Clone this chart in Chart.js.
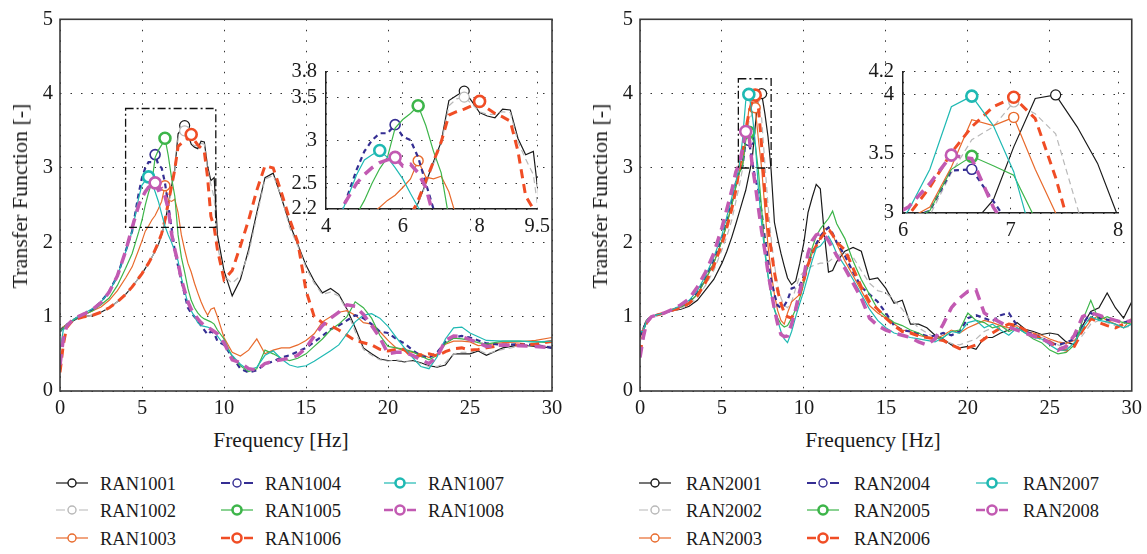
<!DOCTYPE html>
<html>
<head>
<meta charset="utf-8">
<script src="https://cdn.jsdelivr.net/npm/chart.js@4.4.1/dist/chart.umd.min.js"></script>
<style>
  body { margin: 0; background: #fff; width: 1147px; height: 554px; overflow: hidden; position: relative; font-family: 'Liberation Serif', serif; color: #1a1a1a; }
  canvas { position: absolute; }
  .txt { position: absolute; white-space: nowrap; line-height: 1; }
  .legtxt { position: absolute; white-space: nowrap; line-height: 1; font-size: 18.5px; transform: translateY(-50%); }
  svg { position: absolute; overflow: visible; }
</style>
</head>
<body>
<canvas id="mainL" width="575" height="420" style="left:0;top:0"></canvas>
<canvas id="mainR" width="567" height="420" style="left:580px;top:0"></canvas>
<canvas id="insetL" width="290" height="200" style="left:265px;top:50px"></canvas>
<canvas id="insetR" width="290" height="200" style="left:845px;top:50px"></canvas>

<script>
// ---- data ----
const freqL = [0, 0.2, 0.4, 0.7, 1, 1.5, 2, 2.5, 3, 3.5, 4, 4.4, 4.8,
  5.0, 5.2, 5.4, 5.6, 5.8, 6.0, 6.2, 6.4, 6.6, 6.8, 7.0, 7.2, 7.4, 7.6, 7.8, 8.0, 8.2, 8.4, 8.6, 8.8, 9.0, 9.2, 9.4, 9.6,
  10, 10.5, 11, 11.5, 12, 12.5, 13, 13.5, 14, 14.5, 15, 15.5, 16, 16.5, 17, 17.5, 18, 18.5, 19, 19.5, 20, 20.5, 21, 21.5, 22, 22.5, 23, 23.5, 24, 24.5, 25, 25.5, 26,
  27, 28, 29, 30];

const ran1001 = [0.82, 0.86, 0.89, 0.93, 0.97, 1.0, 1.02, 1.06, 1.12, 1.2, 1.3, 1.4, 1.52,
  1.58, 1.65, 1.72, 1.8, 1.88, 1.97, 2.1, 2.27, 2.5, 2.75, 2.98, 3.46, 3.52, 3.57, 3.45, 3.32, 3.28, 3.26, 3.36, 3.35, 3.02, 2.83, 2.87, 2.1,
  1.62, 1.28, 1.5, 1.9, 2.4, 2.87, 2.93, 2.6, 2.25, 1.97, 1.69, 1.48, 1.32, 1.38, 1.3, 1.1, 0.85, 0.58, 0.5, 0.43, 0.41, 0.41, 0.39, 0.41, 0.38, 0.34, 0.32, 0.35, 0.5, 0.5, 0.5, 0.54, 0.48,
  0.58, 0.62, 0.6, 0.58];
const ran1002 = [0.82, 0.86, 0.89, 0.93, 0.97, 1.0, 1.02, 1.06, 1.12, 1.2, 1.3, 1.4, 1.52,
  1.58, 1.65, 1.72, 1.8, 1.88, 1.97, 2.1, 2.27, 2.48, 2.72, 2.95, 3.4, 3.48, 3.5, 3.42, 3.33, 3.3, 3.3, 3.33, 3.32, 2.98, 2.78, 2.6, 1.95,
  1.55, 1.45, 1.55, 1.85, 2.35, 2.85, 2.9, 2.62, 2.2, 1.95, 1.66, 1.45, 1.3, 1.33, 1.28, 1.08, 0.8, 0.56, 0.48, 0.42, 0.4, 0.42, 0.4, 0.4, 0.37, 0.33, 0.33, 0.38, 0.5, 0.52, 0.52, 0.55, 0.5,
  0.56, 0.6, 0.62, 0.6];
const ran1003 = [0.82, 0.86, 0.89, 0.94, 0.98, 1.03, 1.08, 1.13, 1.22, 1.35, 1.52, 1.67, 1.9,
  2.02, 2.15, 2.22, 2.3, 2.36, 2.45, 2.55, 2.76, 2.57, 2.55, 2.58, 2.4, 2.1, 1.9, 1.72, 1.6, 1.45, 1.32, 1.2, 1.1, 1.02, 1.1, 1.12, 1.0,
  0.72, 0.52, 0.47, 0.55, 0.7, 0.5, 0.55, 0.58, 0.58, 0.62, 0.68, 0.77, 0.93, 1.0, 1.06, 1.08, 1.02, 0.92, 0.9, 0.8, 0.68, 0.58, 0.54, 0.52, 0.5, 0.45, 0.5, 0.63, 0.67, 0.67, 0.66, 0.61, 0.62,
  0.65, 0.66, 0.68, 0.72];
const ran1004 = [0.8, 0.85, 0.89, 0.94, 0.98, 1.03, 1.1, 1.2, 1.34, 1.55, 1.88, 2.15, 2.66,
  2.87, 3.0, 3.08, 3.08, 3.18, 3.04, 3.0, 2.8, 2.5, 2.2, 1.88, 1.68, 1.48, 1.3, 1.12, 1.05, 1.0, 0.95, 0.88, 0.82, 0.76, 0.8, 0.78, 0.67,
  0.62, 0.46, 0.3, 0.25, 0.28, 0.36, 0.4, 0.45, 0.48, 0.53, 0.58, 0.66, 0.74, 0.83, 0.88, 0.95, 1.02, 0.98, 0.9, 0.8, 0.78, 0.7, 0.64, 0.55, 0.47, 0.45, 0.52, 0.66, 0.72, 0.74, 0.72, 0.68, 0.64,
  0.62, 0.63, 0.62, 0.58];
const ran1005 = [0.8, 0.85, 0.89, 0.94, 0.98, 1.03, 1.08, 1.16, 1.25, 1.42, 1.65, 1.85, 2.14,
  2.3, 2.5, 2.67, 2.8, 3.14, 3.24, 3.31, 3.4, 3.17, 2.87, 2.62, 2.1, 1.8, 1.6, 1.38, 1.22, 1.12, 1.05, 1.0, 0.97, 0.95, 0.93, 0.9, 0.82,
  0.7, 0.46, 0.34, 0.26, 0.3, 0.55, 0.5, 0.44, 0.41, 0.44, 0.5, 0.6, 0.7, 0.82, 0.9, 1.0, 1.2, 1.12, 0.98, 0.75, 0.6, 0.58, 0.56, 0.53, 0.47, 0.42, 0.48, 0.64, 0.71, 0.7, 0.68, 0.65, 0.63,
  0.67, 0.67, 0.66, 0.65];
const ran1006 = [0.25, 0.62, 0.85, 0.93, 0.97, 1.0, 1.02, 1.06, 1.12, 1.2, 1.3, 1.4, 1.52,
  1.58, 1.65, 1.72, 1.8, 1.9, 2.0, 2.12, 2.3, 2.53, 2.75, 2.98, 3.29, 3.33, 3.36, 3.4, 3.45, 3.37, 3.31, 3.27, 3.22, 2.87, 2.35, 2.2, 1.9,
  1.5, 1.62, 1.95, 2.3, 2.7, 3.03, 3.0, 2.67, 2.31, 2.0, 1.35, 1.0, 0.92, 0.88, 0.82, 0.75, 0.68, 0.65, 0.62, 0.56, 0.54, 0.56, 0.56, 0.45, 0.48, 0.5, 0.47, 0.53, 0.57, 0.58, 0.55, 0.56, 0.58,
  0.62, 0.62, 0.63, 0.67];
const ran1007 = [0.55, 0.82, 0.88, 0.94, 0.99, 1.05, 1.11, 1.2, 1.33, 1.55, 1.87, 2.15, 2.6,
  2.77, 2.83, 2.88, 2.8, 2.68, 2.55, 2.38, 2.22, 2.1, 2.0, 1.88, 1.75, 1.52, 1.35, 1.18, 1.08, 1.0, 0.92, 0.88, 0.87, 0.86, 0.84, 0.8, 0.74,
  0.62, 0.48, 0.36, 0.28, 0.32, 0.48, 0.54, 0.43, 0.35, 0.32, 0.34, 0.4, 0.47, 0.54, 0.62, 0.77, 0.93, 1.02, 1.04, 0.98, 0.87, 0.72, 0.58, 0.45, 0.33, 0.3, 0.46, 0.7, 0.85, 0.86, 0.78, 0.73, 0.68,
  0.67, 0.67, 0.66, 0.67];
const ran1008 = [0.35, 0.7, 0.87, 0.94, 0.99, 1.04, 1.1, 1.19, 1.33, 1.55, 1.88, 2.2, 2.5,
  2.6, 2.68, 2.74, 2.77, 2.8, 2.7, 2.72, 2.62, 2.45, 2.12, 1.9, 1.72, 1.5, 1.35, 1.2, 1.1, 1.03, 0.97, 0.92, 0.88, 0.86, 0.83, 0.8, 0.77,
  0.65, 0.42, 0.38, 0.3, 0.28, 0.37, 0.4, 0.42, 0.44, 0.48, 0.58, 0.74, 0.88, 0.98, 1.06, 1.16, 1.14, 1.03, 0.88, 0.72, 0.5, 0.52, 0.52, 0.48, 0.42, 0.37, 0.46, 0.68, 0.74, 0.73, 0.69, 0.65, 0.6,
  0.62, 0.61, 0.6, 0.58];

const freqR = [0, 0.2, 0.4, 0.7, 1, 1.5, 2, 2.5, 3, 3.5, 4, 4.5, 5,
  5.3, 5.6, 5.85, 6.05, 6.25, 6.45, 6.64, 6.84, 7.03, 7.23, 7.42, 7.62, 7.81, 8.0, 8.2, 8.4, 8.6, 8.8, 9.0,
  9.25, 9.5, 9.75, 10, 10.25, 10.5, 10.75, 11, 11.25, 11.5, 11.75, 12,
  12.5, 13, 13.5, 14, 14.5, 15, 15.5, 16, 16.5, 17, 17.5, 18, 18.5, 19, 19.5, 20, 20.5, 21, 21.5, 22, 22.5, 23, 23.5, 24, 24.5, 25, 25.5, 26, 26.5, 27, 27.5, 28, 28.5, 29, 29.5, 30];

const ran2001 = [0.72, 0.85, 0.95, 1.0, 1.02, 1.05, 1.08, 1.1, 1.14, 1.22, 1.36, 1.5, 1.72,
  1.88, 2.07, 2.25, 2.4, 2.55, 2.7, 2.9, 3.11, 3.56, 3.97, 4.0, 3.73, 3.42, 2.97, 2.27, 2.05, 1.85, 1.68, 1.52,
  1.43, 1.48, 1.72, 2.0, 2.4, 2.6, 2.78, 2.72, 2.1, 1.6, 1.62, 1.74,
  1.88, 1.93, 1.88, 1.5, 1.52, 1.38, 1.18, 1.22, 0.9, 0.9, 0.85, 0.75, 0.7, 0.62, 0.58, 0.6, 0.56, 0.72, 0.72, 0.78, 0.82, 0.92, 0.83, 0.8, 0.76, 0.78, 0.76, 0.66, 0.62, 0.88, 1.07, 1.12, 1.32, 1.12, 0.98, 1.2];
const ran2002 = [0.65, 0.85, 0.95, 1.0, 1.02, 1.05, 1.08, 1.11, 1.16, 1.26, 1.42, 1.62, 1.9,
  2.08, 2.3, 2.55, 2.75, 2.98, 3.34, 3.62, 3.73, 3.94, 3.84, 3.67, 3.05, 2.5, 2.05, 1.7, 1.42, 1.25, 1.15, 1.12,
  1.2, 1.38, 1.55, 1.6, 1.65, 1.68, 1.7, 1.72, 1.72, 1.74, 1.78, 1.82,
  1.85, 1.8, 1.62, 1.45, 1.35, 1.32, 1.22, 1.1, 0.95, 0.85, 0.78, 0.72, 0.68, 0.64, 0.62, 0.66, 0.7, 0.8, 0.85, 0.88, 0.82, 0.85, 0.78, 0.75, 0.72, 0.68, 0.62, 0.58, 0.6, 0.75, 0.9, 0.95, 0.92, 0.88, 0.85, 0.88];
const ran2003 = [0.78, 0.82, 0.95, 1.0, 1.02, 1.05, 1.09, 1.13, 1.19, 1.3, 1.5, 1.72, 2.02,
  2.25, 2.5, 2.75, 2.95, 3.05, 3.39, 3.79, 3.74, 3.81, 3.37, 3.0, 2.45, 1.95, 1.6, 1.3, 1.08, 0.95, 0.9, 1.05,
  1.2, 1.25, 1.3, 1.5, 1.7, 1.85, 1.95, 2.05, 2.18, 2.2, 2.1, 1.98,
  1.75, 1.55, 1.35, 1.15, 1.05, 0.98, 0.9, 0.82, 0.8, 0.75, 0.72, 0.7, 0.75, 0.82, 0.78, 0.85, 0.9, 0.95, 0.92, 0.88, 0.85, 0.88, 0.8, 0.78, 0.75, 0.7, 0.66, 0.64, 0.68, 0.8, 0.95, 1.02, 0.95, 0.9, 0.85, 0.98];
const ran2004 = [0.75, 0.82, 0.95, 1.0, 1.02, 1.05, 1.09, 1.14, 1.2, 1.32, 1.52, 1.75, 2.05,
  2.28, 2.55, 2.8, 2.95, 3.02, 3.36, 3.37, 3.1, 2.85, 2.7, 2.4, 2.05, 1.75, 1.5, 1.3, 1.15, 1.12, 1.15, 1.22,
  1.38, 1.4, 1.42, 1.55, 1.72, 1.85, 1.98, 2.08, 2.15, 2.2, 2.12, 2.0,
  1.82, 1.6, 1.4, 1.3, 1.2, 1.05, 0.88, 0.82, 0.8, 0.77, 0.74, 0.74, 0.78, 0.75, 0.8, 0.98, 1.02, 0.98, 0.94, 1.02, 1.05, 0.88, 0.8, 0.76, 0.72, 0.65, 0.62, 0.65, 0.7, 0.9, 1.05, 0.98, 0.96, 0.95, 0.92, 0.95];
const ran2005 = [0.8, 0.8, 0.95, 1.0, 1.02, 1.05, 1.09, 1.13, 1.19, 1.3, 1.5, 1.72, 2.02,
  2.25, 2.5, 2.75, 2.93, 3.02, 3.37, 3.48, 3.4, 3.32, 2.95, 2.45, 1.9, 1.55, 1.3, 1.1, 0.98, 0.9, 0.86, 0.88,
  0.98, 1.1, 1.25, 1.45, 1.7, 1.92, 2.08, 2.18, 2.25, 2.32, 2.42, 2.25,
  2.05, 1.75, 1.5, 1.3, 1.1, 1.0, 0.92, 0.88, 0.82, 0.78, 0.72, 0.7, 0.72, 0.8, 0.82, 1.05, 0.95, 0.92, 0.85, 0.88, 0.8, 0.85, 0.78, 0.7, 0.65, 0.55, 0.5, 0.52, 0.62, 0.95, 1.22, 0.95, 1.0, 0.95, 0.92, 0.9];
const ran2006 = [0.5, 0.75, 0.92, 1.0, 1.02, 1.05, 1.09, 1.12, 1.18, 1.28, 1.46, 1.68, 1.98,
  2.2, 2.45, 2.7, 2.98, 3.22, 3.51, 3.73, 3.9, 3.98, 3.8, 3.3, 2.65, 2.2, 1.9, 1.6, 1.35, 1.18, 1.05, 1.0,
  0.98, 1.1, 1.3, 1.5, 1.7, 1.85, 1.95, 2.05, 2.12, 2.18, 2.1, 2.0,
  1.9, 1.65, 1.4, 1.2, 1.1, 0.98, 0.88, 0.8, 0.78, 0.74, 0.72, 0.7, 0.68, 0.62, 0.57, 0.58, 0.62, 0.7, 0.78, 0.85, 0.9, 0.88, 0.82, 0.76, 0.7, 0.66, 0.58, 0.55, 0.6, 0.82, 0.98, 0.92, 0.88, 0.85, 0.9, 0.95];
const ran2007 = [0.8, 0.8, 0.95, 1.0, 1.02, 1.05, 1.1, 1.15, 1.22, 1.35, 1.55, 1.8, 2.1,
  2.35, 2.6, 2.82, 3.02, 3.37, 3.9, 3.99, 3.74, 3.35, 2.7, 2.25, 1.85, 1.55, 1.3, 1.1, 0.95, 0.8, 0.7, 0.65,
  0.8, 1.0, 1.18, 1.35, 1.55, 1.75, 1.92, 1.95, 2.02, 2.08, 1.98, 1.85,
  1.68, 1.5, 1.3, 1.1, 0.95, 0.85, 0.78, 0.75, 0.72, 0.7, 0.68, 0.66, 0.72, 0.8, 0.78, 0.92, 0.95, 0.85, 0.9, 0.82, 0.75, 0.85, 0.78, 0.72, 0.7, 0.62, 0.55, 0.55, 0.65, 0.85, 1.0, 0.95, 0.93, 0.9, 0.85, 0.9];
const ran2008 = [0.45, 0.72, 0.92, 1.0, 1.02, 1.05, 1.1, 1.16, 1.24, 1.4, 1.6, 1.85, 2.2,
  2.45, 2.7, 2.95, 3.05, 3.25, 3.49, 3.46, 3.05, 2.78, 2.45, 2.15, 1.88, 1.6, 1.35, 1.1, 0.9, 0.76, 0.73, 0.74,
  0.9, 1.1, 1.35, 1.55, 1.85, 2.02, 2.1, 2.12, 2.1, 2.02, 1.92, 1.82,
  1.65, 1.45, 1.25, 0.98, 0.88, 0.82, 0.78, 0.75, 0.72, 0.66, 0.62, 0.7, 0.9, 1.12, 1.25, 1.34, 1.36, 1.05, 0.98, 0.92, 0.86, 0.82, 0.78, 0.74, 0.7, 0.65, 0.55, 0.6, 0.75, 1.0, 1.05, 1.02, 0.98, 0.95, 0.92, 0.95];

const namesL = ['RAN1001', 'RAN1002', 'RAN1003', 'RAN1004', 'RAN1005', 'RAN1006', 'RAN1007', 'RAN1008'];
const namesR = ['RAN2001', 'RAN2002', 'RAN2003', 'RAN2004', 'RAN2005', 'RAN2006', 'RAN2007', 'RAN2008'];

// zoom windows (also drawn as dash-dot boxes on the main plots)
const zoomXL = [4, 9.5], zoomYL = [2.2, 3.8];
const zoomXR = [6, 8], zoomYR = [3, 4.2];
const insetXTicksL = [4, 6, 8, 9.5], insetYTicksL = [2.2, 2.5, 3, 3.5, 3.8];
const insetXTicksR = [6, 7, 8], insetYTicksR = [3, 3.5, 4, 4.2];

// ---- styles ----
const FONT = "'Liberation Serif', serif";
const TXT = '#1a1a1a';
const styles = [
  { color: '#1a1a1a', width: 1.2, dash: [], r: 5, mw: 1.2 },
  { color: '#b8b8b8', width: 1.2, dash: [6, 4], r: 5, mw: 1.2 },
  { color: '#e86a2c', width: 1.2, dash: [], r: 5, mw: 1.4 },
  { color: '#352e93', width: 2.2, dash: [5, 4], r: 5, mw: 1.6 },
  { color: '#3db54a', width: 1.2, dash: [], r: 5.5, mw: 2.6 },
  { color: '#f04d25', width: 3, dash: [9, 6], r: 5.5, mw: 2.6 },
  { color: '#1fb9b3', width: 1.2, dash: [], r: 5.5, mw: 2.6 },
  { color: '#c25ab2', width: 3.5, dash: [11, 7], r: 5.5, mw: 2.6 }
];

function makeSets(freq, series) {
  return series.map((vals, i) => {
    const st = styles[i];
    const peak = vals.indexOf(Math.max(...vals));
    return {
      data: freq.map((f, k) => ({ x: f, y: vals[k] })),
      borderColor: st.color,
      borderWidth: st.width,
      borderDash: st.dash,
      pointRadius: c => c.dataIndex === peak ? st.r : 0,
      pointHoverRadius: 0,
      pointBorderWidth: st.mw,
      pointBorderColor: st.color,
      pointBackgroundColor: '#fff',
      tension: 0,
      fill: false,
      order: 8 - i
    };
  });
}

// frame + zoom box on main plots
const framePlugin = {
  id: 'frame',
  beforeDraw(chart, args, opts) {
    if (!opts.fill) return;
    const a = chart.chartArea, ctx = chart.ctx;
    ctx.save();
    ctx.fillStyle = '#fff';
    ctx.fillRect(a.left, a.top, a.right - a.left, a.bottom - a.top);
    ctx.restore();
  },
  afterDatasetsDraw(chart, args, opts) {
    const a = chart.chartArea, ctx = chart.ctx;
    ctx.save();
    if (opts.box) {
      const sx = chart.scales.x, sy = chart.scales.y;
      const x1 = sx.getPixelForValue(opts.box[0][0]), x2 = sx.getPixelForValue(opts.box[0][1]);
      const y1 = sy.getPixelForValue(opts.box[1][1]), y2 = sy.getPixelForValue(opts.box[1][0]);
      ctx.strokeStyle = '#111';
      ctx.lineWidth = 1.3;
      ctx.setLineDash([8, 3, 2, 3]);
      ctx.strokeRect(x1, y1, x2 - x1, y2 - y1);
      ctx.setLineDash([]);
    }
    if (opts.frame) {
      ctx.strokeStyle = '#3a3a3a';
      ctx.lineWidth = 1.6;
      ctx.strokeRect(a.left, a.top, a.right - a.left, a.bottom - a.top);
    }
    ctx.restore();
  }
};

function fixedTicks(list) {
  return s => { s.ticks = list.map(v => ({ value: v })); };
}

function mainChart(id, freq, series, box, padRight) {
  new Chart(document.getElementById(id), {
    type: 'line',
    data: { datasets: makeSets(freq, series) },
    plugins: [framePlugin],
    options: {
      responsive: false, animation: false, devicePixelRatio: 1,
      layout: { padding: { left: 0, top: 14, right: padRight, bottom: 0 } },
      plugins: { legend: { display: false }, tooltip: { enabled: false }, frame: { frame: true, box: box } },
      scales: {
        x: {
          type: 'linear', min: 0, max: 30,
          ticks: { stepSize: 5, color: TXT, font: { family: FONT, size: 20.5 }, padding: 5, maxRotation: 0 },
          grid: { color: '#333', lineWidth: 1, drawTicks: false },
          border: { display: false, dash: [1.5, 9] },
          afterFit: s => { s.height = 29; }
        },
        y: {
          type: 'linear', min: 0, max: 5,
          ticks: { stepSize: 1, color: TXT, font: { family: FONT, size: 20.5 }, padding: 7 },
          grid: { color: '#333', lineWidth: 1, drawTicks: false },
          border: { display: false, dash: [1.5, 9] },
          afterFit: s => { s.width = 60; }
        }
      }
    }
  });
}

function insetChart(id, freq, series, xr, yr, xt, yt, pad, yW, xH) {
  new Chart(document.getElementById(id), {
    type: 'line',
    data: { datasets: makeSets(freq, series) },
    plugins: [framePlugin],
    options: {
      responsive: false, animation: false, devicePixelRatio: 1,
      layout: { padding: pad },
      plugins: { legend: { display: false }, tooltip: { enabled: false }, frame: { fill: true } },
      scales: {
        x: {
          type: 'linear', min: xr[0], max: xr[1],
          afterBuildTicks: fixedTicks(xt),
          ticks: { color: TXT, font: { family: FONT, size: 20.5 }, padding: 5, maxRotation: 0, autoSkip: false, callback: v => String(v) },
          grid: { color: '#333', lineWidth: 1, drawTicks: false },
          border: { display: true, color: '#222', width: 1.5, dash: [1.5, 9] },
          afterFit: s => { s.height = xH; }
        },
        y: {
          type: 'linear', min: yr[0], max: yr[1],
          afterBuildTicks: fixedTicks(yt),
          ticks: { color: TXT, font: { family: FONT, size: 20.5 }, padding: 9, autoSkip: false, callback: v => String(v) },
          grid: { color: '#333', lineWidth: 1, drawTicks: false },
          border: { display: true, color: '#222', width: 1.5, dash: [1.5, 9] },
          afterFit: s => { s.width = yW; }
        }
      }
    }
  });
}

const seriesL = [ran1001, ran1002, ran1003, ran1004, ran1005, ran1006, ran1007, ran1008];
const seriesR = [ran2001, ran2002, ran2003, ran2004, ran2005, ran2006, ran2007, ran2008];

mainChart('mainL', freqL, seriesL, [zoomXL, zoomYL], 23);
mainChart('mainR', freqR, seriesR, [zoomXR, zoomYR], 15);
insetChart('insetL', freqL, seriesL, zoomXL, zoomYL, insetXTicksL, insetYTicksL, { left: 0, top: 18, right: 15, bottom: 0 }, 61, 41);
insetChart('insetR', freqR, seriesR, zoomXR, zoomYR, insetXTicksR, insetYTicksR, { left: 0, top: 21, right: 17, bottom: 0 }, 58, 37);

// ---- axis titles (html text) ----
function addText(str, cx, cy, size, rotate) {
  const d = document.createElement('div');
  d.className = 'txt';
  d.textContent = str;
  d.style.fontSize = size + 'px';
  d.style.left = cx + 'px';
  d.style.top = cy + 'px';
  d.style.transform = 'translate(-50%,-50%)' + (rotate ? ' rotate(-90deg)' : '');
  document.body.appendChild(d);
}
addText('Transfer Function [-]', 20, 196, 22, true);
addText('Frequency [Hz]', 281, 441, 21.5, false);
addText('Transfer Function [-]', 600, 196, 22, true);
addText('Frequency [Hz]', 873, 441, 21.5, false);

// ---- legends ----
const legRows = [483, 510, 538];
function buildLegend(names, colX, textGap) {
  const NS = 'http://www.w3.org/2000/svg';
  names.forEach((name, i) => {
    const st = styles[i];
    const x0 = colX[Math.floor(i / 3)], cy = legRows[i % 3];
    const svg = document.createElementNS(NS, 'svg');
    svg.setAttribute('width', 34); svg.setAttribute('height', 16);
    svg.style.left = x0 + 'px'; svg.style.top = (cy - 8) + 'px';
    const ln = document.createElementNS(NS, 'line');
    ln.setAttribute('x1', 0); ln.setAttribute('x2', 32); ln.setAttribute('y1', 8); ln.setAttribute('y2', 8);
    ln.setAttribute('stroke', st.color);
    ln.setAttribute('stroke-width', Math.min(st.width, 2.4));
    if (st.dash.length) ln.setAttribute('stroke-dasharray', '9 14 9');
    svg.appendChild(ln);
    const c = document.createElementNS(NS, 'circle');
    c.setAttribute('cx', 16); c.setAttribute('cy', 8); c.setAttribute('r', st.mw > 2 ? 4.5 : 4);
    c.setAttribute('fill', '#fff'); c.setAttribute('stroke', st.color); c.setAttribute('stroke-width', st.mw > 2 ? 2.6 : 1.4);
    svg.appendChild(c);
    document.body.appendChild(svg);
    const t = document.createElement('div');
    t.className = 'legtxt';
    t.textContent = name;
    t.style.left = (x0 + textGap) + 'px';
    t.style.top = (cy + 1) + 'px';
    document.body.appendChild(t);
  });
}
buildLegend(namesL, [56, 221, 384], 44);
buildLegend(namesR, [639, 807, 976], 47);
</script>
</body>
</html>
